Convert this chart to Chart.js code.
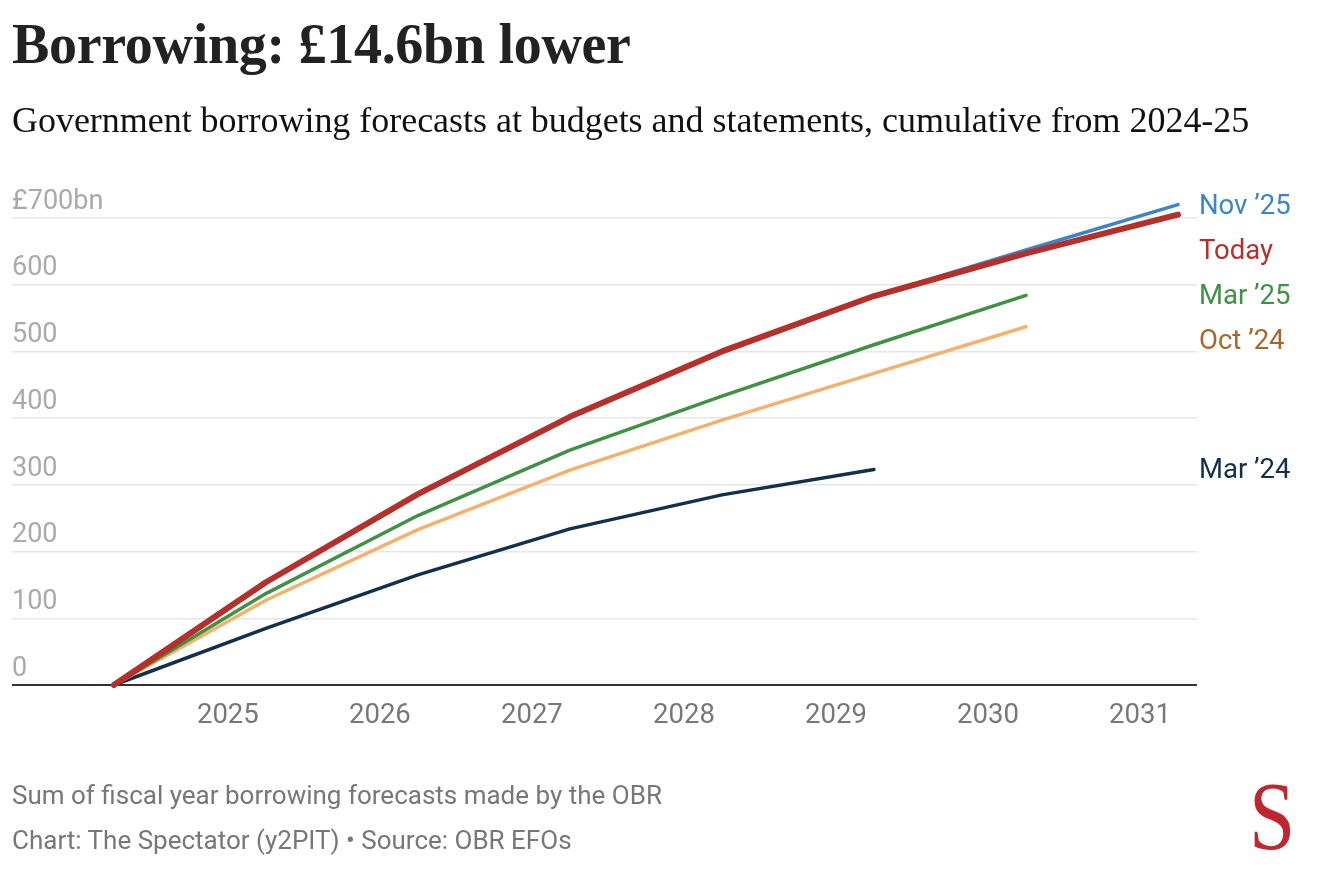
<!DOCTYPE html>
<html>
<head>
<meta charset="utf-8">
<script src="https://cdn.jsdelivr.net/npm/chart.js@4"></script>
<style>
  html, body { margin: 0; padding: 0; background: #fff; }
  body { width: 1320px; height: 892px; position: relative; overflow: hidden; }
  #title { position: absolute; left: 12px; top: 12px; font-family: "Liberation Serif", serif; font-weight: bold; font-size: 56px; color: #222; white-space: nowrap; letter-spacing: -0.3px; }
  #subtitle { position: absolute; left: 12px; top: 99px; font-family: "Liberation Serif", serif; font-size: 36px; color: #111; white-space: nowrap; letter-spacing: -0.03px; }
  .foot { position: absolute; left: 12px; font-family: Roboto, sans-serif; font-size: 26px; color: #777; white-space: nowrap; }
  #logo { position: absolute; left: 1249px; top: 760px; font-family: "Liberation Serif", serif; font-size: 98px; color: #c0272d; transform: scaleX(0.85); transform-origin: left top; }
  #wrap { position: absolute; left: 0; top: 0; width: 1320px; height: 892px; }
</style>
</head>
<body>
<div id="wrap"><canvas id="c"></canvas></div>
<div id="title">Borrowing: £14.6bn lower</div>
<div id="subtitle">Government borrowing forecasts at budgets and statements, cumulative from 2024-25</div>
<div class="foot" style="top:780px">Sum of fiscal year borrowing forecasts made by the OBR</div>
<div class="foot" style="top:825px">Chart: The Spectator (y2PIT) • Source: OBR EFOs</div>
<div id="logo">S</div>
<script>
// ---- data (cumulative borrowing, £bn) ----
const points = [2024.25, 2025.25, 2026.25, 2027.25, 2028.25, 2029.25, 2030.25, 2031.25];
const xTicks = [2025, 2026, 2027, 2028, 2029, 2030, 2031];
const yTicks = [0, 100, 200, 300, 400, 500, 600, 700];
const today = [0, 154, 286, 402, 500, 583, 647, 705];
const nov25 = [0, 154, 286, 402, 500, 583, 652, 720];
const mar25 = [0, 137, 254, 352, 433, 510, 584];
const oct24 = [0, 127, 233, 322, 397, 467, 537];
const mar24 = [0, 85, 165, 234, 285, 323];
const seriesNames = ["Today", "Nov ’25", "Mar ’25", "Oct ’24", "Mar ’24"];

const lineColors = ["#b5302a", "#3b84c8", "#3e9243", "#f5b06b", "#12304b"];
const labelColors = ["#b5302a", "#3b84c8", "#3e9243", "#a7662b", "#12304b"];
const widths = [6, 3.5, 3.5, 3.5, 3.5];

function toXY(vals) { return vals.map((v, i) => ({ x: points[i], y: v })); }
const allSeries = [today, nov25, mar25, oct24, mar24];

const datasets = allSeries.map((s, i) => ({
  label: seriesNames[i],
  data: toXY(s),
  borderColor: lineColors[i],
  backgroundColor: lineColors[i],
  borderWidth: widths[i],
  pointRadius: 0,
  pointHoverRadius: 0,
  tension: 0,
  clip: false,
  borderCapStyle: "round",
  borderJoinStyle: "round",
  fill: false
}));

const endLabels = {
  id: "endLabels",
  afterDatasetsDraw(chart) {
    const { ctx, chartArea, scales } = chart;
    const items = chart.data.datasets.map((d, i) => {
      const last = d.data[d.data.length - 1];
      return { i, text: d.label, y: scales.y.getPixelForValue(last.y) };
    }).sort((a, b) => a.y - b.y);
    const gap = 45;
    for (let k = 1; k < items.length; k++) {
      if (items[k].y < items[k - 1].y + gap) items[k].y = items[k - 1].y + gap;
    }
    ctx.save();
    ctx.font = "27.5px Roboto";
    ctx.textAlign = "left";
    ctx.textBaseline = "middle";
    items.forEach(it => {
      ctx.fillStyle = labelColors[it.i];
      ctx.fillText(it.text, chartArea.right + 2, it.y + 2);
    });
    ctx.restore();
  }
};

new Chart(document.getElementById("c"), {
  type: "line",
  data: { datasets },
  plugins: [endLabels],
  options: {
    responsive: true,
    maintainAspectRatio: false,
    animation: false,
    events: [],
    layout: { padding: { left: 12, right: 123, top: 218, bottom: 147 } },
    plugins: { legend: { display: false }, tooltip: { enabled: false } },
    scales: {
      x: {
        type: "linear",
        min: 2023.58,
        max: 2031.375,
        afterBuildTicks(scale) { scale.ticks = xTicks.map(v => ({ value: v })); },
        afterFit(scale) { scale.height = 60; },
        grid: { display: false },
        border: { display: false },
        ticks: {
          color: "#777",
          font: { family: "Roboto", size: 27.5 },
          padding: 7,
          maxRotation: 0,
          autoSkip: false,
          callback: v => String(v)
        }
      },
      y: {
        type: "linear",
        min: 0,
        max: 700,
        afterBuildTicks(scale) { scale.ticks = yTicks.map(v => ({ value: v })); },
        grid: {
          drawTicks: false,
          color: ctx => ctx.tick && ctx.tick.value === 0 ? "#333" : "#e6e6e6",
          lineWidth: ctx => ctx.tick && ctx.tick.value === 0 ? 2 : 1.5
        },
        border: { display: false },
        ticks: {
          mirror: true,
          padding: 0,
          labelOffset: -16,
          color: "#aaa",
          font: { family: "Roboto", size: 27 },
          callback: v => v === 700 ? "£700bn" : String(v)
        }
      }
    }
  }
});
</script>
</body>
</html>
